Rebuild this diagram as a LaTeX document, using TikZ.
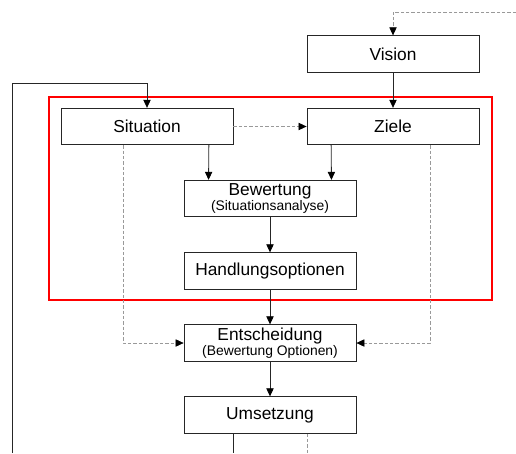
\documentclass[tikz,border=0pt]{standalone}
\usepackage{fontspec}
\setmainfont{Liberation Sans}
\usetikzlibrary{arrows.meta}

\tikzset{
  box/.style={draw=black!85, line width=0.6pt, minimum width=129pt, minimum height=27.4pt,
    inner sep=1pt, align=center, font=\fontsize{13}{14}\selectfont},
  link/.style={draw=black!85, line width=0.6pt, -{Triangle[length=6pt,width=5.5pt,black]}},
  dashlink/.style={draw=black!40, line width=0.5pt, dash pattern=on 2.5pt off 1.5pt,
    -{Triangle[length=6pt,width=5.5pt,black]}},
  sub/.style={font=\fontsize{10.4}{11}\selectfont}
}

\begin{document}
\begin{tikzpicture}[x=0.75pt,y=-0.75pt]
\useasboundingbox (0,0) rectangle (516,453);

% Steps
\node[box] (Vision) at (393,54) {Vision};
\node[box] (Situation) at (147,126.5) {Situation};
\node[box] (Ziele) at (393,126.5) {Ziele};
\node[box] (Bewertung) at (270,198.5) {Bewertung\\[-3pt]{\fontsize{10.4}{11}\selectfont(Situationsanalyse)}};
\node[box] (Optionen) at (270,271) {Handlungsoptionen};
\node[box] (Entscheidung) at (270,343) {Entscheidung\\[-3pt]{\fontsize{10.4}{11}\selectfont(Bewertung Optionen)}};
\node[box] (Umsetzung) at (270,415) {Umsetzung};

% Analysis frame
\draw[red, line width=1.5pt] (49,96.5) rectangle (492,300);

% Free ends
\coordinate (visionin) at (516,12);
\coordinate (loopend) at (12,453);
\coordinate (outA) at (233,453);
\coordinate (outB) at (307,453);

% Main flow
\draw[link] (Vision) -- (Ziele);
\draw[link] ([xshift=-18.4pt]Situation.south east) -- ([xshift=-46.1pt]Bewertung.north);
\draw[link] ([xshift=18.4pt]Ziele.south west) -- ([xshift=46.1pt]Bewertung.north);
\draw[link] (Bewertung) -- (Optionen);
\draw[link] (Optionen) -- (Entscheidung);
\draw[link] (Entscheidung) -- (Umsetzung);

% Feedback loop
\draw[link] (loopend) |- ([yshift=18pt]Situation.north) -- (Situation.north);
\draw[draw=black!85, line width=0.6pt] (Umsetzung.south -| outA) -- (outA);

% Dashed influences
\draw[dashlink] (visionin) -| (Vision.north);
\draw[dashlink] (Situation) -- (Ziele);
\draw[dashlink] ([xshift=-18pt]Situation.south) |- (Entscheidung.west);
\draw[dashlink] ([xshift=27.75pt]Ziele.south) |- (Entscheidung.east);
\draw[draw=black!40, line width=0.5pt, dash pattern=on 2.5pt off 1.5pt] (Umsetzung.south -| outB) -- (outB);

\end{tikzpicture}
\end{document}
